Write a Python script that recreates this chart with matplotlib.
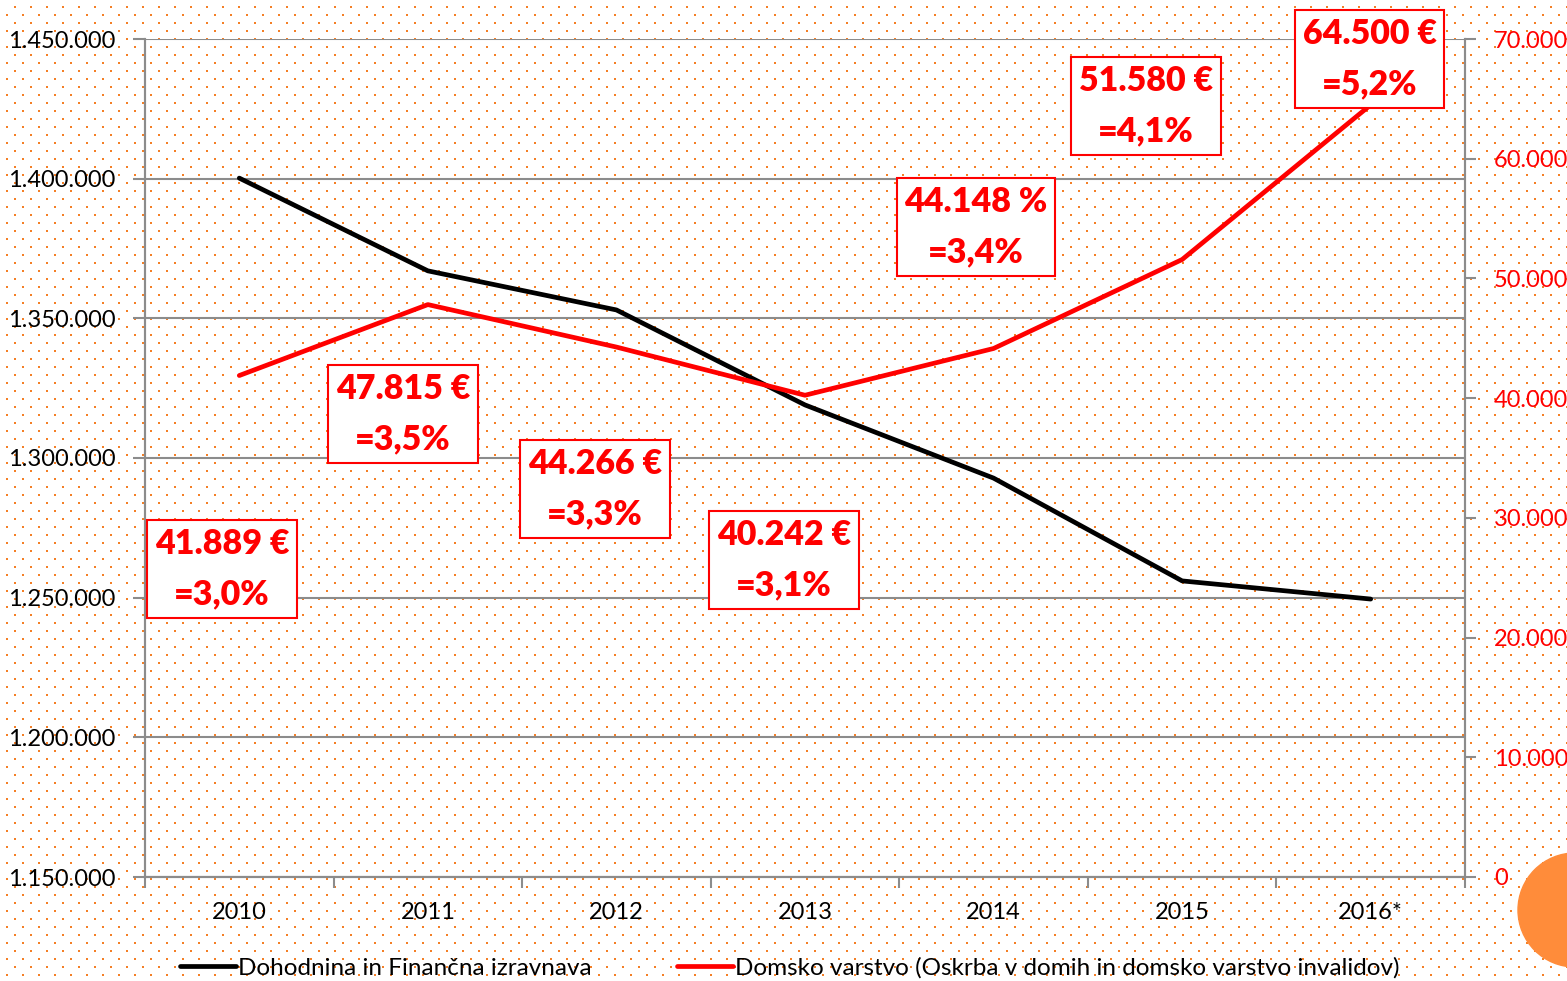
import numpy as np
import matplotlib
matplotlib.use("Agg")
import matplotlib.pyplot as plt
from matplotlib.patches import Circle
from matplotlib.ticker import FuncFormatter

# data
years = ["2010", "2011", "2012", "2013", "2014", "2015", "2016*"]
dohodnina = [1400200, 1367000, 1353000, 1319000, 1292800, 1256000, 1249500]
domsko = [41889, 47815, 44266, 40242, 44148, 51580, 64500]
box_labels = ["41.889 €\n=3,0%", "47.815 €\n=3,5%", "44.266 €\n=3,3%", "40.242 €\n=3,1%",
              "44.148 %\n=3,4%", "51.580 €\n=4,1%", "64.500 €\n=5,2%"]
left_ticks = [1150000, 1200000, 1250000, 1300000, 1350000, 1400000, 1450000]
right_ticks = [0, 10000, 20000, 30000, 40000, 50000, 60000, 70000]

# box centres in axes fraction
box_pos = [(0.0583, 0.3675), (0.1955, 0.5525), (0.3409, 0.4630), (0.4841, 0.3783),
           (0.6295, 0.7757), (0.7583, 0.9200), (0.9280, 0.9761)]

plt.rcParams['font.family'] = ['Lato', 'DejaVu Sans']

W, H = 1567, 981
fig = plt.figure(figsize=(W / 100, H / 100), dpi=100)
fig.patch.set_facecolor("white")

# orange dotted background
img = np.ones((H, W, 4))
dot = np.array([0.96, 0.50, 0.15, 1.0])
for r, y in enumerate(range(6, H, 8)):
    x0 = 14 if r % 2 == 0 else 6
    for x in range(x0, W, 16):
        img[y:y + 2, x:x + 2] = dot
fig.figimage(img, xo=0, yo=0, zorder=-5)

fig.patches.append(Circle((1575, H - 910), 57, color="#FF8C3A",
                          transform=None, zorder=1))

ax = fig.add_axes([145 / W, 1 - 877 / H, 1320 / W, 838 / H])
ax.patch.set_alpha(0)
ax2 = ax.twinx()

grey = "#8c8c8c"
x = np.arange(len(years))
l1, = ax.plot(x, dohodnina, color="black", lw=3.4, solid_capstyle="round",
              label="Dohodnina in Finančna izravnava", zorder=3)
l2, = ax2.plot(x, domsko, color="#ff0000", lw=3.4, solid_capstyle="round",
               label="Domsko varstvo (Oskrba v domih in domsko varstvo invalidov)", zorder=3)

ax.set_xlim(-0.5, len(years) - 0.5)
ax.set_ylim(1150000, 1450000)
ax2.set_ylim(0, 70000)
ax.set_yticks(left_ticks)
ax2.set_yticks(right_ticks)
fmt = FuncFormatter(lambda v, p: f"{int(v):,}".replace(",", "."))
ax.yaxis.set_major_formatter(fmt)
ax2.yaxis.set_major_formatter(fmt)

ax.set_xticks(x)
ax.set_xticklabels(years)
ax.set_xticks(np.arange(-0.5, len(years)), minor=True)
ax.tick_params(axis="x", which="major", length=0, pad=18, labelsize=17)
ax.tick_params(axis="x", which="minor", length=8, width=1.5, color=grey)
ax.tick_params(axis="y", length=9, width=1.5, color=grey, labelsize=17, pad=12)
ax2.tick_params(axis="y", length=8, width=1.5, color=grey, labelsize=17,
                labelcolor="#ff0000", pad=13)

ax.grid(axis="y", color=grey, lw=1.5)
for a in (ax, ax2):
    a.spines["top"].set_visible(False)
    for s in ("left", "right", "bottom"):
        a.spines[s].set_color(grey)
        a.spines[s].set_linewidth(1.5)

for (bx, by), t in zip(box_pos, box_labels):
    ax2.text(bx, by, t, transform=ax2.transAxes, ha="center", va="center",
             fontsize=24.5, fontweight="heavy", color="#ff0000", linespacing=1.7,
             zorder=10,
             bbox=dict(boxstyle="square,pad=0.22", fc="white", ec="#ff0000", lw=1.5))

fig.legend(handles=[l1, l2], loc="center", bbox_to_anchor=(0.504, 13 / H),
           ncol=2, frameon=False, fontsize=17.5, handlelength=2.3,
           handletextpad=0.1, columnspacing=3.5)

fig.savefig("out.png", dpi=100)
